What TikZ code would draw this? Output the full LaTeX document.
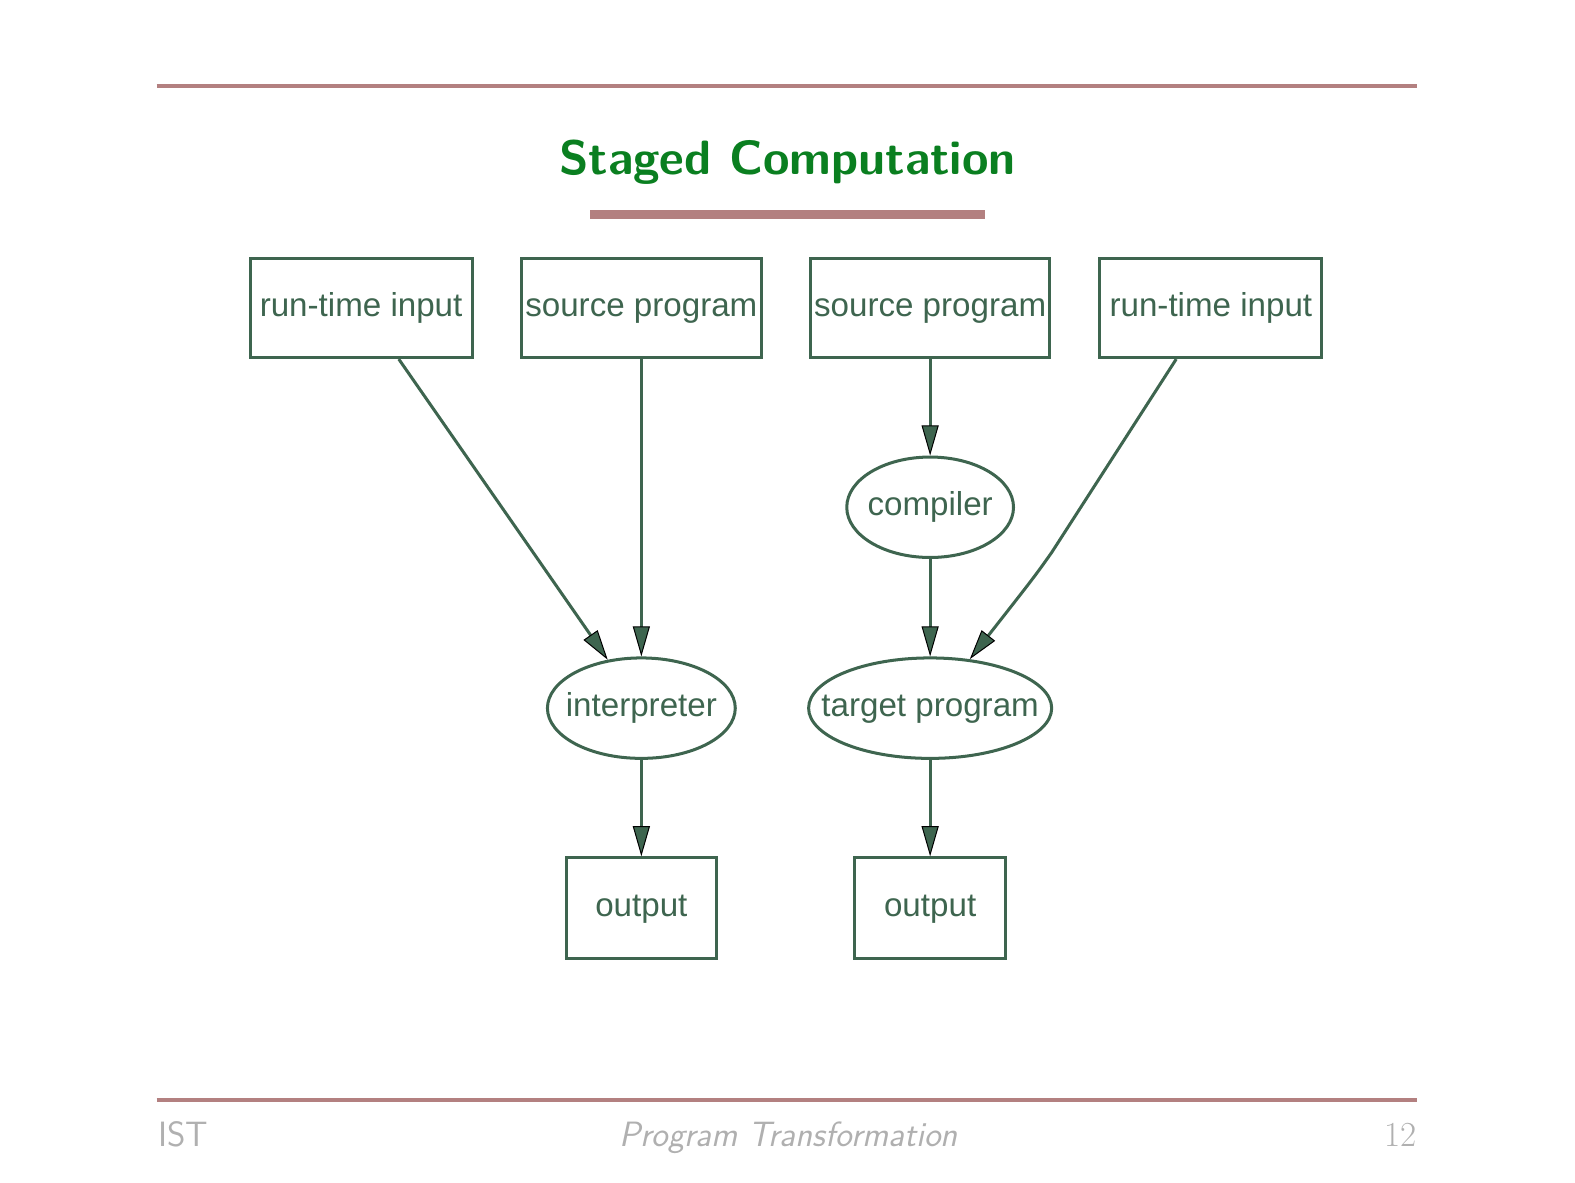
\documentclass[tikz,border=0pt]{standalone}
\usepackage{fontspec}
\newfontfamily\nodefont{Liberation Sans}
\usetikzlibrary{arrows.meta,shapes.geometric}
\definecolor{ec}{HTML}{3E654F}
\definecolor{rulec}{HTML}{B38080}
\definecolor{ttl}{HTML}{0A7F20}
\definecolor{foot}{HTML}{B0B0B0}
\tikzset{
  box/.style={draw=ec, line width=1.5pt, text=ec, font=\nodefont\fontsize{16.5}{20}\selectfont, inner sep=0pt, text height=11.9pt, text depth=3.5pt, minimum height=49.5pt},
  oval/.style={box, ellipse, minimum height=50pt},
  edge/.style={draw=ec, line width=1.5pt, -{Triangle[length=15pt, width=8.5pt, color=black, fill=ec, line width=0.5pt]}},
  foottext/.style={text=foot, font=\fontsize{17.5}{21}\sffamily, inner sep=0pt},
}
\begin{document}
\begin{tikzpicture}[x=0.5pt, y=-0.5pt]
\useasboundingbox (0,0) rectangle (1568,1177);
% rules and title
\draw[rulec, line width=2pt] (156,86) -- (1411,86);
\node[text=ttl, font=\fontsize{24}{28}\sffamily\bfseries, anchor=base, inner sep=0pt] (title) at (784,174) {Staged Computation};
\fill[rulec] (587,209) rectangle (981,218);
\draw[rulec, line width=2pt] (156,1095) -- (1411,1095);
% footer
\node[foottext, anchor=base west] (fl) at (157,1141) {IST};
\node[foottext, anchor=base, font=\fontsize{17.5}{21}\sffamily\itshape] (fc) at (785,1141) {Program Transformation};
\node[foottext, anchor=base east, font=\fontsize{17.5}{21}\rmfamily] (fr) at (1411,1141) {12};
% nodes
\node[box, minimum width=110.5pt] (rt1) at (359.5,306.5) {run-time input};
\node[box, minimum width=119.5pt] (sp1) at (638.5,306.5) {source program};
\node[box, minimum width=119pt] (sp2) at (926,306.5) {source program};
\node[box, minimum width=110.5pt] (rt2) at (1205.5,306.5) {run-time input};
\node[oval, minimum width=83pt] (comp) at (926,505) {\makebox[0pt]{compiler}};
\node[oval, minimum width=93.5pt] (int) at (638.5,705) {\makebox[0pt]{interpreter}};
\node[oval, minimum width=121pt] (tgt) at (926,705) {\makebox[0pt]{target program}};
\node[box, minimum width=75pt, minimum height=50pt] (out1) at (638.5,904) {output};
\node[box, minimum width=75pt, minimum height=50pt] (out2) at (926,904) {output};
% edges
\draw[edge] ([xshift=18.75pt]rt1.south) -- (int);
\draw[edge] (sp1) -- (int);
\draw[edge] (sp2) -- (comp);
\draw[edge] (comp) -- (tgt);
\draw[edge] (int) -- (out1);
\draw[edge] (tgt) -- (out2);
\coordinate (bend) at (1047,550);
\draw[edge] ([xshift=-17.25pt]rt2.south) -- (bend) .. controls (1030,574) .. (tgt.51);
\end{tikzpicture}
\end{document}
